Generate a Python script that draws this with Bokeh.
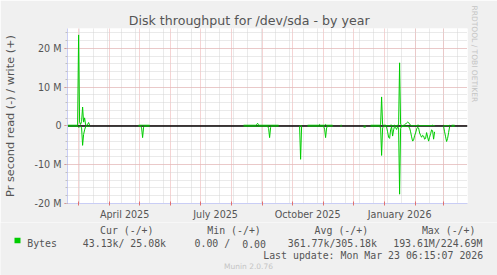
import pandas as pd
import numpy as np
from bokeh.plotting import figure
from bokeh.layouts import column
from bokeh.models import (Range1d, FixedTicker, Span, ColumnDataSource,
                          DatetimeTickFormatter, Title)
from bokeh.core.properties import value
from bokeh.embed import file_html
from bokeh.resources import INLINE

# ---------------- data (M bytes / second, daily averages) ----------------
seg_starts = ["2025-02-18", "2025-04-30", "2025-08-13", "2025-10-08", "2025-10-16",
              "2025-11-18", "2025-12-11", "2025-12-18", "2026-03-01", "2026-03-09"]

write_1 = [0.2, 0.2, 0.2, 0.2, 0.2, 0.2, 0.2, 0.2, 0.2, 0.2, 0.2,
           23.5, 1.0, 0.4, 1.2, 4.9, 1.0, 2.1, 0.3, 0.2, 0.4, 0.9, 0.2]
read_1 = [0.05, 0.05, 0.05, 0.05, 0.05, 0.05, 0.05, 0.05, 0.05, 0.05, 0.05,
          0.3, 0.2, 0.1, 0.5, 5.0, 2.2, 1.0, 0.2, 0.1, 0.1, 0.1, 0.1]

write_2 = [0.2, 0.2, 0.2, 0.2, 0.2, 0.2, 0.2, 0.2, 0.2, 0.2, 0.2, 0.2]
read_2 = [0.05, 0.05, 0.05, 0.5, 3.0, 0.3, 0.05, 0.05, 0.05, 0.05, 0.05, 0.05]

write_3 = [0.2, 0.2, 0.2, 0.2, 0.2, 0.2, 0.2, 0.2, 0.2, 0.2,
           0.2, 0.2, 0.2, 0.4, 0.7, 0.2, 0.2, 0.2, 0.2, 0.2,
           0.2, 0.2, 0.2, 0.2, 0.2, 0.2, 0.2, 0.2, 0.2, 0.2,
           0.2, 0.2, 0.2, 0.2, 0.2, 0.2]
read_3 = [0.05, 0.05, 0.05, 0.05, 0.05, 0.05, 0.05, 0.05, 0.05, 0.05,
          0.05, 0.05, 0.05, 0.05, 0.05, 0.05, 0.05, 0.05, 0.05, 0.05,
          0.05, 0.05, 0.05, 0.05, 0.05, 0.6, 3.0, 0.4, 0.05, 0.05,
          0.05, 0.05, 0.05, 0.05, 0.05, 0.05]

write_4 = [0.05, 0.1, 0.05]
read_4 = [0.1, 8.6, 0.1]

write_5 = [0.2, 0.2, 0.2, 0.2, 0.2, 0.2, 0.2, 0.2, 0.2, 0.2,
           0.2, 0.2, 0.4, 0.2, 0.2, 0.2, 0.2, 0.2, 0.4, 0.2,
           0.2, 0.2, 0.2, 0.2, 0.2, 0.2]
read_5 = [0.05, 0.05, 0.05, 0.05, 0.05, 0.05, 0.05, 0.05, 0.05, 0.05,
          0.05, 0.05, 0.05, 0.05, 0.05, 0.05, 0.05, 0.8, 3.0, 0.5,
          0.05, 0.05, 0.05, 0.05, 0.05, 0.05]

write_6 = [0.2, 0.2]
read_6 = [0.05, 0.05]

write_7 = [0.0, 0.0, 0.0]
read_7 = [0.3, 0.3, 0.3]

write_8 = [0.2, 0.2, 0.2, 0.2, 0.2, 0.2, 0.2, 0.2, 0.2, 0.2,
           0.3, 7.5, 0.3, 0.2, 0.2, 0.2, 0.1, 0.1, 0.1, 0.1,
           0.2, 0.2, 0.1, 0.1, 0.2, 0.1, 0.1, 0.2, 0.3, 16.3,
           0.5, 0.1, 0.1, 0.2, 0.3, 0.5, 0.8, 1.0, 0.9, 0.5,
           0.2, 0.1, 0.1, 0.1, 0.1, 0.1, 0.1, 0.2, 0.2, 0.1,
           0.1, 0.1, 0.1, 0.1, 0.1, 0.1, 0.1, 0.1, 0.1, 0.1,
           0.1, 0.1, 0.2, 0.1, 0.1]
read_8 = [0.05, 0.05, 0.05, 0.05, 0.05, 0.05, 0.05, 0.05, 0.1, 0.2,
          0.3, 7.6, 0.4, 0.2, 0.1, 0.1, 0.3, 1.5, 2.9, 3.2,
          1.0, 0.2, 2.6, 1.0, 0.1, 0.4, 0.9, 0.2, 0.5, 17.6,
          0.6, 0.1, 0.1, 0.1, 0.1, 0.1, 0.1, 0.1, 0.2, 0.5,
          1.5, 2.8, 3.9, 3.6, 2.5, 1.8, 0.8, 0.3, 0.5, 1.8,
          2.4, 2.9, 2.4, 2.6, 3.4, 3.2, 1.7, 2.8, 3.9, 2.9,
          2.0, 1.0, 1.2, 3.4, 1.5]

write_9 = [0.2, 0.1, 0.1, 0.1, 0.1, 0.1, 0.2]
read_9 = [0.1, 1.5, 2.8, 4.0, 3.2, 1.7, 0.2]

write_10 = [0.2, 0.2, 0.2, 0.2]
read_10 = [0.05, 0.05, 0.05, 0.05]

seg_write = [write_1, write_2, write_3, write_4, write_5, write_6, write_7, write_8, write_9, write_10]
seg_read = [read_1, read_2, read_3, read_4, read_5, read_6, read_7, read_8, read_9, read_10]

y_tick_vals = [-20, -10, 0, 10, 20]
y_tick_labels = ["-20 M", "-10 M", "0", "10 M", "20 M"]
x_label_months = ["2025-04-01", "2025-07-01", "2025-10-01", "2026-01-01"]

title_text = "Disk throughput for /dev/sda - by year"
y_axis_text = "Pr second read (-) / write (+)"
legend_headers = ["Cur (-/+)", "Min (-/+)", "Avg (-/+)", "Max (-/+)"]
legend_name = "Bytes"
legend_values = ["43.13k/ 25.08k", "0.00 /", "0.00", "361.77k/305.18k", "193.61M/224.69M"]
last_update = "Last update: Mon Mar 23 06:15:07 2026"
munin_text = "Munin 2.0.76"
rrd_text = "RRDTOOL / TOBI OETIKER"

# ---------------- build series ----------------
xs, ws, rs = [], [], []
for start, w, r in zip(seg_starts, seg_write, seg_read):
    d = pd.date_range(start, periods=len(w), freq="D")
    xs.extend(list(d))
    ws.extend(w)
    rs.extend([-v for v in r])
    xs.append(d[-1] + pd.Timedelta(hours=12))
    ws.append(np.nan)
    rs.append(np.nan)
src = ColumnDataSource(dict(x=xs, w=ws, r=rs))

# ---------------- geometry ----------------
W = 497
FL, FT, FW, FH = 67, 28, 400, 175
MAIN_H = 222
FOOT_H = 275 - MAIN_H
X0 = pd.Timestamp("2025-02-17 21:30")
X1 = X0 + pd.Timedelta(days=400)
Y0, Y1 = -20.0, 25.16


def ms(ts):
    return pd.Timestamp(ts).value / 1e6


BG = "#F0F0F0"
MAJ = "#eaa8a8"
MIN = "#d4d4d4"
AX = "#c9cdf5"
TXT = "#555555"

p = figure(width=W, height=MAIN_H, x_axis_type="datetime",
           x_range=Range1d(ms(X0), ms(X1)), y_range=Range1d(Y0, Y1),
           output_backend="svg", toolbar_location=None,
           min_border_left=FL, min_border_right=W - FL - FW,
           min_border_top=FT, min_border_bottom=MAIN_H - FT - FH)
p.background_fill_color = "white"
p.border_fill_color = BG
p.outline_line_color = None

p.title.text = title_text
p.title.align = "left"
p.title.offset = 128.3 - FL
p.title.text_font = "DejaVu Sans"
p.title.text_font_size = "12.6px"
p.title.text_font_style = "normal"
p.title.text_color = TXT
p.title.standoff = 1

p.add_layout(Title(text=rrd_text, align="left", offset=5 - FT, text_font="DejaVu Sans",
                   text_font_size="7.5px", text_font_style="normal",
                   text_color="#c4c4c4", standoff=4), "right")

month_starts = [ms(t) for t in pd.date_range("2025-03-01", "2026-03-01", freq="MS")]
biweekly = [ms(t) for t in pd.date_range("2025-03-02", "2026-03-22", freq="14D")]
label_pos = [ms(pd.Timestamp(m) + pd.Timedelta(days=15)) for m in x_label_months]

# grids
p.xgrid.ticker = FixedTicker(ticks=month_starts, minor_ticks=biweekly)
p.xgrid.grid_line_color = MAJ
p.xgrid.grid_line_dash = "1 1"
p.xgrid.minor_grid_line_color = MIN
p.xgrid.minor_grid_line_dash = "1 1"
p.ygrid.ticker = FixedTicker(ticks=y_tick_vals, minor_ticks=list(range(-20, 26, 2)))
p.ygrid.grid_line_color = MAJ
p.ygrid.grid_line_dash = "1 1"
p.ygrid.minor_grid_line_color = MIN
p.ygrid.minor_grid_line_dash = "1 1"

# x axis
xa = p.xaxis[0]
xa.ticker = FixedTicker(ticks=label_pos, minor_ticks=month_starts)
xa.formatter = DatetimeTickFormatter(days="%B %Y", months="%B %Y", years="%B %Y",
                                     hours="%B %Y", minutes="%B %Y")
xa.major_tick_in = 0
xa.major_tick_out = 0
xa.minor_tick_in = 2
xa.minor_tick_out = 2
xa.minor_tick_line_color = "#e07070"
xa.axis_line_color = AX
xa.major_label_standoff = 3
xa.axis_label_standoff = 0
xa.major_label_text_font = "DejaVu Sans"
xa.major_label_text_font_size = "9.6px"
xa.major_label_text_color = TXT

# y axis
ya = p.yaxis[0]
ya.ticker = FixedTicker(ticks=y_tick_vals, minor_ticks=list(range(-20, 26, 2)))
ya.major_label_overrides = {v: t for v, t in zip(y_tick_vals, y_tick_labels)}
ya.major_tick_in = 0
ya.major_tick_out = 3
ya.major_tick_line_color = "#e07070"
ya.minor_tick_in = 0
ya.minor_tick_out = 2
ya.minor_tick_line_color = "#c0c0c0"
ya.axis_line_color = AX
ya.major_label_standoff = 3
ya.major_label_text_font = "DejaVu Sans"
ya.major_label_text_font_size = "9.6px"
ya.major_label_text_color = TXT
ya.axis_label = y_axis_text
ya.axis_label_text_font = "DejaVu Sans"
ya.axis_label_text_font_size = "11.3px"
ya.axis_label_text_font_style = "normal"
ya.axis_label_text_color = TXT
ya.axis_label_standoff = 15

# zero rule
p.add_layout(Span(location=0, dimension="width", line_color="black", line_width=1.3,
                  level="underlay"))

# series
p.line("x", "w", source=src, line_color="#00cc00", line_width=1)
p.line("x", "r", source=src, line_color="#00cc00", line_width=1)

# ---------------- footer (legend block), pixel layout ----------------
f = figure(width=W, height=FOOT_H, x_range=Range1d(0, W), y_range=Range1d(FOOT_H, 0),
           output_backend="svg", toolbar_location=None,
           x_axis_location=None, y_axis_location=None,
           min_border=0, min_border_left=0, min_border_right=0,
           min_border_top=0, min_border_bottom=0)
f.xgrid.visible = False
f.ygrid.visible = False
f.background_fill_color = BG
f.border_fill_color = BG
f.outline_line_color = None

if "frame_align" in f.properties():
    f.frame_align = False
    p.frame_align = False

oy = MAIN_H
MONO = value("DejaVu Sans Mono")
FS = value("9.9px")
f.text(x=[99.5, 206.8, 314.1, 421.4], y=[230 - oy] * 4, text=legend_headers,
       text_font=MONO, text_font_size=FS, text_color=TXT,
       text_baseline="alphabetic", text_align="left")
f.quad(left=[14], right=[20], top=[237.3 - oy], bottom=[242.7 - oy], fill_color="#00cc00",
       line_color=None)
f.text(x=[26.7, 82.3, 194.0, 241.7, 287.3, 392.7], y=[243 - oy] * 6,
       text=[legend_name] + legend_values,
       text_font=MONO, text_font_size=FS, text_color=TXT,
       text_baseline="alphabetic", text_align="left")
f.text(x=[482.7], y=[254.7 - oy], text=[last_update],
       text_font=MONO, text_font_size=FS, text_color=TXT,
       text_baseline="alphabetic", text_align="right")
f.text(x=[248], y=[266 - oy], text=[munin_text],
       text_font=value("DejaVu Sans"), text_font_size=value("7.5px"),
       text_color="#c4c4c4", text_baseline="alphabetic", text_align="center")

layout = column(p, f, spacing=0)
open("out.html", "w").write(file_html(layout, INLINE))
